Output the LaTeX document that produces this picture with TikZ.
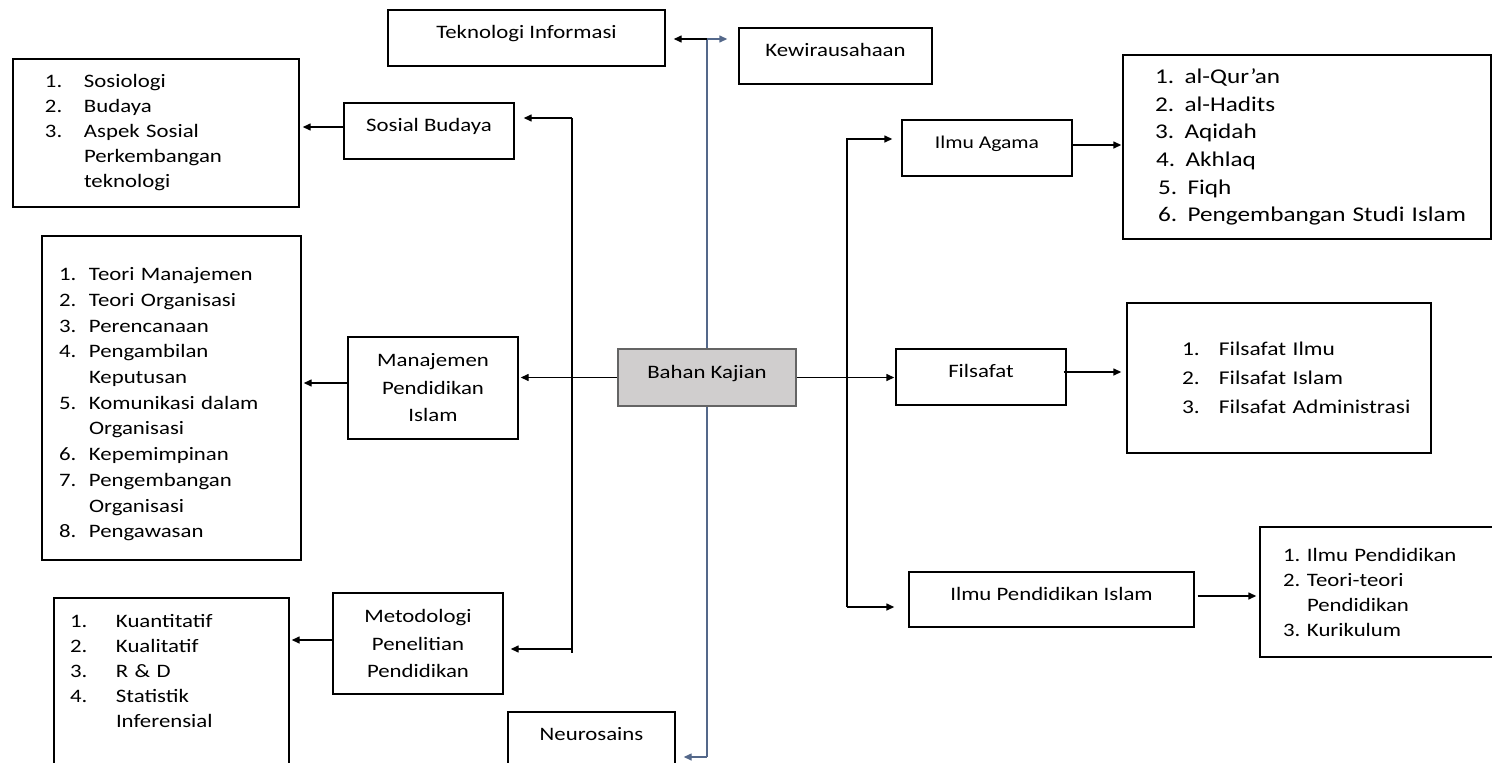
\documentclass[tikz,border=0pt]{standalone}
\usepackage{fontspec}
\setmainfont{Carlito}[FakeStretch=1.2]
\usetikzlibrary{arrows.meta,calc}

\definecolor{spineblue}{RGB}{84,104,138}
\definecolor{kajianfill}{RGB}{208,206,206}
\definecolor{kajianline}{RGB}{100,100,100}

\newcommand{\numitem}[3]{\mbox{\makebox[#1][l]{#2}#3}}

\begin{document}
\begin{tikzpicture}[
      x=1pt, y=-1pt,
      box/.style = {draw, line width=1.4pt, inner sep=2pt, align=center,
                    font=\fontsize{19}{27.5}\selectfont},
      topbox/.style = {box, text height=13pt, text depth=12pt},
      listbox/.style = {draw, line width=1.4pt, inner ysep=2pt, align=left,
                    font=\fontsize{19}{25}\selectfont},
      kajian/.style = {topbox, fill=kajianfill, draw=kajianline, line width=2.5pt},
      arr/.style = {line width=1.4pt, -{Triangle[length=8pt,width=7pt]}},
      spine/.style = {line width=1.6pt, draw=spineblue}
      ]
      \useasboundingbox (0,0) rectangle (1492,763);

      \coordinate (spTop) at (707,39);
      \coordinate (spBot) at (707,757);
      \coordinate (lfTop) at (572,118);
      \coordinate (lfBot) at (572,653);
      \coordinate (rtTop) at (847,139);
      \coordinate (rtBot) at (847,607);

      % spines behind the boxes
      \draw[spine] (spTop) -- (spBot);
      \draw[line width=1.4pt] (lfTop) -- (lfBot);

      \node[topbox, minimum width=277pt, minimum height=56pt] (ti) at (526.5,38) {Teknologi Informasi};
      \node[topbox, minimum width=193pt, minimum height=56pt] (kew) at (835.5,56) {Kewirausahaan};

      \node[topbox, minimum width=170pt, minimum height=56pt] (sb) at (429,131) {Sosial Budaya};
      \node[listbox, text width=222pt, inner xsep=32pt, minimum height=148pt] (sbList) at (156,133) {%
        \numitem{39pt}{1.}{Sosiologi}\\
        \numitem{39pt}{2.}{Budaya}\\
        \numitem{39pt}{3.}{Aspek Sosial}\\
        \numitem{39pt}{}{Perkembangan}\\
        \numitem{39pt}{}{teknologi}};

      \node[box, minimum width=170pt, minimum height=102pt] (mpi) at (433,388) {Manajemen\\Pendidikan\\Islam};
      \node[listbox, text width=225pt, inner xsep=17pt, minimum height=324pt,
            font=\fontsize{19}{25.7}\selectfont] (mpiList) at (171.5,398) {%
        \mbox{}\\
        \numitem{30pt}{1.}{Teori Manajemen}\\
        \numitem{30pt}{2.}{Teori Organisasi}\\
        \numitem{30pt}{3.}{Perencanaan}\\
        \numitem{30pt}{4.}{Pengambilan}\\
        \numitem{30pt}{}{Keputusan}\\
        \numitem{30pt}{5.}{Komunikasi dalam}\\
        \numitem{30pt}{}{Organisasi}\\
        \numitem{30pt}{6.}{Kepemimpinan}\\
        \numitem{30pt}{7.}{Pengembangan}\\
        \numitem{30pt}{}{Organisasi}\\
        \numitem{30pt}{8.}{Pengawasan}};

      \node[kajian, minimum width=178pt, minimum height=57pt] (kajian) at (707,377.5) {Bahan Kajian};

      \node[box, minimum width=170pt, minimum height=101pt] (met) at (418,643.5) {Metodologi\\Penelitian\\Pendidikan};
      \node[listbox, text width=203pt, inner xsep=16pt, minimum height=196pt] (metList) at (171.5,696) {%
        \numitem{46pt}{1.}{Kuantitatif}\\
        \numitem{46pt}{2.}{Kualitatif}\\
        \numitem{46pt}{3.}{R \& D}\\
        \numitem{46pt}{4.}{Statistik}\\
        \numitem{46pt}{}{Inferensial}\\
        \mbox{}\\
        \mbox{}};

      \node[topbox, minimum width=167pt, minimum height=56pt] (neuro) at (591.5,740) {Neurosains};

      \node[topbox, minimum width=170pt, minimum height=56pt,
            font=\fontsize{18}{22}\selectfont] (ia) at (987,148) {Ilmu Agama};
      \node[listbox, text width=304pt, inner xsep=32pt, minimum height=184pt,
            font=\fontsize{21}{27.6}\selectfont] (iaList) at (1307,147) {%
        \mbox{1. al-Qur’an}\\
        \mbox{2. al-Hadits}\\
        \mbox{3. Aqidah}\\
        \mbox{\hspace{1pt}4. Akhlaq}\\
        \mbox{\hspace{3pt}5. Fiqh}\\
        \mbox{\hspace{3pt}6. Pengembangan Studi Islam}};

      \node[topbox, minimum width=170pt, minimum height=56pt] (fil) at (981,377) {Filsafat};
      \node[listbox, text width=194pt, inner xsep=55pt, minimum height=150pt,
            font=\fontsize{19.5}{29}\selectfont] (filList) at (1279,378) {%
        \numitem{37pt}{1.}{Filsafat Ilmu}\\
        \numitem{37pt}{2.}{Filsafat Islam}\\
        \numitem{37pt}{3.}{Filsafat Administrasi}};

      \node[topbox, minimum width=285pt, minimum height=55pt] (ipi) at (1051.5,599.5) {Ilmu Pendidikan Islam};
      \node[listbox, text width=254pt, inner xsep=23pt, minimum height=130pt] (ipiList) at (1410,592) {%
        \numitem{24pt}{1.}{Ilmu Pendidikan}\\
        \numitem{24pt}{2.}{Teori-teori}\\
        \numitem{24pt}{}{Pendidikan}\\
        \numitem{24pt}{3.}{Kurikulum}};

      % top and bottom of the blue spine
      \draw[arr, shorten >=8pt] (spTop) -- (spTop -| ti.east);
      \draw[arr, spineblue, shorten >=11pt] (spTop) -- (spTop -| kew.west);
      \draw[arr, spineblue, shorten >=8pt] (spBot) -- (spBot -| neuro.east);

      % left branch
      \draw[arr, shorten >=9pt] (lfTop) -- (lfTop -| sb.east);
      \draw[arr, shorten >=7pt] (lfBot) ++(0,-4) coordinate (metIn) -- (metIn -| met.east);
      \draw[arr, shorten >=2pt] (kajian.west) -- (kajian.west -| mpi.east);
      \draw[arr, shorten >=3pt] (sb.west) ++(0,-4) coordinate (sbOut) -- (sbOut -| sbList.east);
      \draw[arr, shorten >=2pt] (mpi.west) ++(0,-5) coordinate (mpiOut) -- (mpiOut -| mpiList.east);
      \draw[arr, shorten >=2pt] (met.west) ++(0,-3.5) coordinate (metOut) -- (metOut -| metList.east);

      % right branch
      \draw[arr, shorten >=9pt] (rtBot) -- (rtTop) -- (rtTop -| ia.west);
      \draw[arr, shorten >=14pt] (rtBot) -- (rtBot -| ipi.west);
      \draw[arr, shorten >=1pt] (kajian.east) -- (kajian.east -| fil.west);
      \draw[arr, shorten >=1pt] (ia.east) ++(0,-3) coordinate (iaOut) -- (iaOut -| iaList.west);
      \draw[arr, shorten >=5pt] (fil.east) ++(-3,-5) coordinate (filOut) -- (filOut -| filList.west);
      \draw[arr, shorten >=3pt] (ipi.east) ++(3,-3.5) coordinate (ipiOut) -- (ipiOut -| ipiList.west);
    \end{tikzpicture}
\end{document}
